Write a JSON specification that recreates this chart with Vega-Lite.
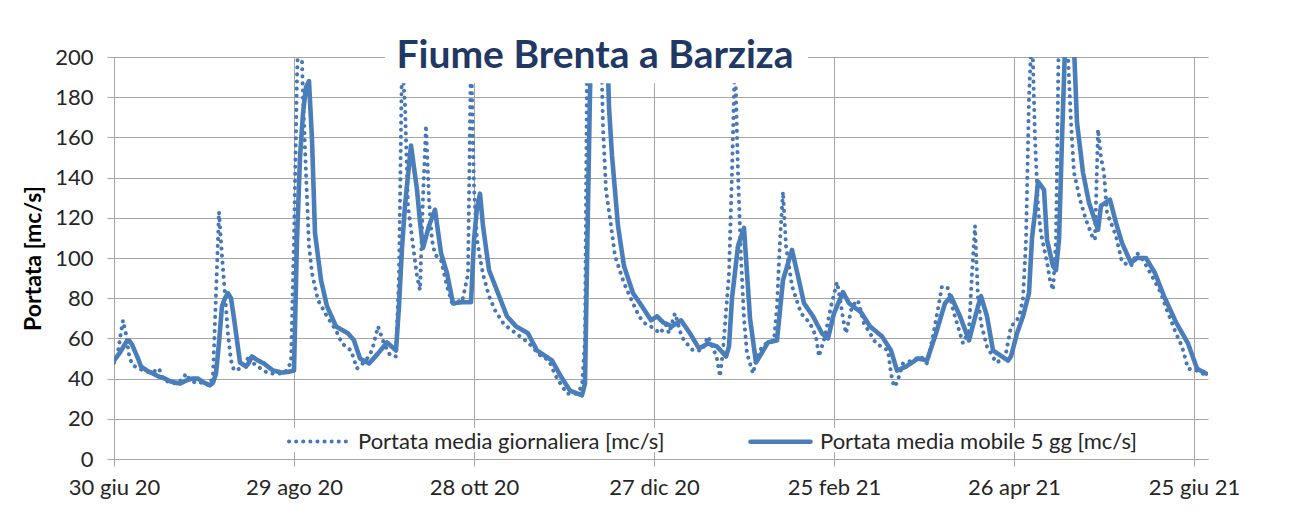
{
  "$schema": "https://vega.github.io/schema/vega-lite/v6.json",
  "width": 1094,
  "height": 402,
  "autosize": {"type": "none"},
  "padding": {"left": 114, "top": 57, "right": 82, "bottom": 57},
  "background": "white",
  "title": {"text": "Fiume Brenta a Barziza", "font": "Lato", "fontSize": 39, "fontWeight": "bold", "color": "#1F3864", "anchor": "middle", "dx": -66, "offset": -49, "baseline": "middle", "zindex": 1},
  "config": {"view": {"stroke": null}},
  "layer": [
    {
      "data": {"values": [
        {"data":"2020-06-30","serie":"g","portata":48},{"data":"2020-07-01","serie":"g","portata":50},{"data":"2020-07-02","serie":"g","portata":60},{"data":"2020-07-03","serie":"g","portata":69},{"data":"2020-07-04","serie":"g","portata":62},{"data":"2020-07-05","serie":"g","portata":52},{"data":"2020-07-06","serie":"g","portata":47},{"data":"2020-07-08","serie":"g","portata":45},{"data":"2020-07-10","serie":"g","portata":44},{"data":"2020-07-12","serie":"g","portata":43},{"data":"2020-07-14","serie":"g","portata":44},{"data":"2020-07-15","serie":"g","portata":45},{"data":"2020-07-16","serie":"g","portata":41},{"data":"2020-07-17","serie":"g","portata":39},{"data":"2020-07-19","serie":"g","portata":38},{"data":"2020-07-21","serie":"g","portata":37.5},{"data":"2020-07-23","serie":"g","portata":40},{"data":"2020-07-24","serie":"g","portata":42.5},{"data":"2020-07-25","serie":"g","portata":40},{"data":"2020-07-27","serie":"g","portata":38},{"data":"2020-07-29","serie":"g","portata":38},{"data":"2020-07-31","serie":"g","portata":37},
        {"data":"2020-08-01","serie":"g","portata":36.7},{"data":"2020-08-02","serie":"g","portata":42},{"data":"2020-08-03","serie":"g","portata":82},{"data":"2020-08-04","serie":"g","portata":123},{"data":"2020-08-05","serie":"g","portata":101},{"data":"2020-08-06","serie":"g","portata":82},{"data":"2020-08-07","serie":"g","portata":62},{"data":"2020-08-08","serie":"g","portata":49},{"data":"2020-08-09","serie":"g","portata":44},{"data":"2020-08-11","serie":"g","portata":45},{"data":"2020-08-13","serie":"g","portata":47.5},{"data":"2020-08-14","serie":"g","portata":51.7},{"data":"2020-08-16","serie":"g","portata":46.7},{"data":"2020-08-18","serie":"g","portata":45},{"data":"2020-08-20","serie":"g","portata":43},{"data":"2020-08-22","serie":"g","portata":42.5},{"data":"2020-08-24","serie":"g","portata":42.5},{"data":"2020-08-26","serie":"g","portata":43},{"data":"2020-08-28","serie":"g","portata":48},{"data":"2020-08-29","serie":"g","portata":110},{"data":"2020-08-30","serie":"g","portata":190},{"data":"2020-08-31","serie":"g","portata":235},
        {"data":"2020-09-01","serie":"g","portata":180},{"data":"2020-09-02","serie":"g","portata":142},{"data":"2020-09-03","serie":"g","portata":106},{"data":"2020-09-04","serie":"g","portata":92.5},{"data":"2020-09-06","serie":"g","portata":79},{"data":"2020-09-09","serie":"g","portata":71},{"data":"2020-09-12","serie":"g","portata":64},{"data":"2020-09-14","serie":"g","portata":57.5},{"data":"2020-09-17","serie":"g","portata":54},{"data":"2020-09-19","serie":"g","portata":45},{"data":"2020-09-22","serie":"g","portata":49},{"data":"2020-09-24","serie":"g","portata":54},{"data":"2020-09-26","serie":"g","portata":66},{"data":"2020-09-28","serie":"g","portata":57.5},{"data":"2020-09-30","serie":"g","portata":51.7},
        {"data":"2020-10-02","serie":"g","portata":51},{"data":"2020-10-03","serie":"g","portata":92},{"data":"2020-10-04","serie":"g","portata":200},{"data":"2020-10-05","serie":"g","portata":176},{"data":"2020-10-06","serie":"g","portata":126},{"data":"2020-10-08","serie":"g","portata":102.5},{"data":"2020-10-09","serie":"g","portata":91},{"data":"2020-10-10","serie":"g","portata":84},{"data":"2020-10-11","serie":"g","portata":130},{"data":"2020-10-12","serie":"g","portata":166},{"data":"2020-10-13","serie":"g","portata":129},{"data":"2020-10-14","serie":"g","portata":109},{"data":"2020-10-15","serie":"g","portata":101.7},{"data":"2020-10-17","serie":"g","portata":99},{"data":"2020-10-19","serie":"g","portata":86},{"data":"2020-10-21","serie":"g","portata":76},{"data":"2020-10-22","serie":"g","portata":79},{"data":"2020-10-24","serie":"g","portata":78},{"data":"2020-10-26","serie":"g","portata":92},{"data":"2020-10-27","serie":"g","portata":205},{"data":"2020-10-28","serie":"g","portata":135},{"data":"2020-10-29","serie":"g","portata":109},{"data":"2020-10-30","serie":"g","portata":100},{"data":"2020-10-31","serie":"g","portata":92},
        {"data":"2020-11-02","serie":"g","portata":81},{"data":"2020-11-04","serie":"g","portata":74},{"data":"2020-11-07","serie":"g","portata":67},{"data":"2020-11-11","serie":"g","portata":62.5},{"data":"2020-11-15","serie":"g","portata":58},{"data":"2020-11-19","serie":"g","portata":51.7},{"data":"2020-11-22","serie":"g","portata":49},{"data":"2020-11-24","serie":"g","portata":42},{"data":"2020-11-26","serie":"g","portata":37},{"data":"2020-11-28","serie":"g","portata":32.5},
        {"data":"2020-12-01","serie":"g","portata":32.5},{"data":"2020-12-03","serie":"g","portata":36},{"data":"2020-12-04","serie":"g","portata":60},{"data":"2020-12-05","serie":"g","portata":260},{"data":"2020-12-06","serie":"g","portata":380},{"data":"2020-12-07","serie":"g","portata":420},{"data":"2020-12-08","serie":"g","portata":350},{"data":"2020-12-09","serie":"g","portata":230},{"data":"2020-12-10","serie":"g","portata":165},{"data":"2020-12-11","serie":"g","portata":134},{"data":"2020-12-13","serie":"g","portata":112.5},{"data":"2020-12-14","serie":"g","portata":101},{"data":"2020-12-17","serie":"g","portata":87.5},{"data":"2020-12-20","serie":"g","portata":77.5},{"data":"2020-12-22","serie":"g","portata":71},{"data":"2020-12-24","serie":"g","portata":67.5},{"data":"2020-12-27","serie":"g","portata":65},{"data":"2020-12-29","serie":"g","portata":62.5},{"data":"2020-12-31","serie":"g","portata":66.7},
        {"data":"2021-01-01","serie":"g","portata":62.5},{"data":"2021-01-03","serie":"g","portata":72.5},{"data":"2021-01-05","serie":"g","portata":62},{"data":"2021-01-06","serie":"g","portata":59},{"data":"2021-01-09","serie":"g","portata":54},{"data":"2021-01-12","serie":"g","portata":54},{"data":"2021-01-14","serie":"g","portata":61},{"data":"2021-01-16","serie":"g","portata":54},{"data":"2021-01-17","serie":"g","portata":50},{"data":"2021-01-18","serie":"g","portata":41},{"data":"2021-01-19","serie":"g","portata":54},{"data":"2021-01-21","serie":"g","portata":92.5},{"data":"2021-01-22","serie":"g","portata":142.5},{"data":"2021-01-23","serie":"g","portata":200},{"data":"2021-01-24","serie":"g","portata":142},{"data":"2021-01-25","serie":"g","portata":100},{"data":"2021-01-26","serie":"g","portata":70},{"data":"2021-01-27","serie":"g","portata":52.5},{"data":"2021-01-29","serie":"g","portata":42.5},{"data":"2021-01-30","serie":"g","portata":49},
        {"data":"2021-02-01","serie":"g","portata":56},{"data":"2021-02-03","serie":"g","portata":58},{"data":"2021-02-05","serie":"g","portata":59},{"data":"2021-02-06","serie":"g","portata":76},{"data":"2021-02-07","serie":"g","portata":109},{"data":"2021-02-08","serie":"g","portata":133},{"data":"2021-02-09","serie":"g","portata":106},{"data":"2021-02-11","serie":"g","portata":86},{"data":"2021-02-14","serie":"g","portata":72.5},{"data":"2021-02-17","serie":"g","portata":67.5},{"data":"2021-02-19","serie":"g","portata":61},{"data":"2021-02-20","serie":"g","portata":51},{"data":"2021-02-22","serie":"g","portata":61},{"data":"2021-02-24","serie":"g","portata":76},{"data":"2021-02-26","serie":"g","portata":88},{"data":"2021-02-27","serie":"g","portata":80},{"data":"2021-02-28","serie":"g","portata":70},
        {"data":"2021-03-01","serie":"g","portata":62.5},{"data":"2021-03-03","serie":"g","portata":76},{"data":"2021-03-05","serie":"g","portata":79},{"data":"2021-03-07","serie":"g","portata":67.5},{"data":"2021-03-11","serie":"g","portata":57.5},{"data":"2021-03-15","serie":"g","portata":54},{"data":"2021-03-16","serie":"g","portata":42.5},{"data":"2021-03-17","serie":"g","portata":36},{"data":"2021-03-18","serie":"g","portata":38},{"data":"2021-03-20","serie":"g","portata":47.5},{"data":"2021-03-23","serie":"g","portata":49},{"data":"2021-03-26","serie":"g","portata":51},{"data":"2021-03-28","serie":"g","portata":47.5},{"data":"2021-03-30","serie":"g","portata":61},
        {"data":"2021-04-01","serie":"g","portata":77.5},{"data":"2021-04-02","serie":"g","portata":86},{"data":"2021-04-04","serie":"g","portata":85},{"data":"2021-04-06","serie":"g","portata":72.5},{"data":"2021-04-09","serie":"g","portata":57.5},{"data":"2021-04-11","serie":"g","portata":64},{"data":"2021-04-12","serie":"g","portata":92.5},{"data":"2021-04-13","serie":"g","portata":116},{"data":"2021-04-14","serie":"g","portata":80},{"data":"2021-04-15","serie":"g","portata":67.5},{"data":"2021-04-17","serie":"g","portata":56},{"data":"2021-04-20","serie":"g","portata":48},{"data":"2021-04-23","serie":"g","portata":50},{"data":"2021-04-25","serie":"g","portata":66},{"data":"2021-04-27","serie":"g","portata":69},{"data":"2021-04-28","serie":"g","portata":72.5},{"data":"2021-04-29","serie":"g","portata":80},{"data":"2021-04-30","serie":"g","portata":109},
        {"data":"2021-05-01","serie":"g","portata":180},{"data":"2021-05-02","serie":"g","portata":215},{"data":"2021-05-03","serie":"g","portata":160},{"data":"2021-05-04","serie":"g","portata":125},{"data":"2021-05-05","serie":"g","portata":112},{"data":"2021-05-06","serie":"g","portata":105},{"data":"2021-05-07","serie":"g","portata":98},{"data":"2021-05-08","serie":"g","portata":89},{"data":"2021-05-09","serie":"g","portata":84},{"data":"2021-05-10","serie":"g","portata":109},{"data":"2021-05-11","serie":"g","portata":220},{"data":"2021-05-12","serie":"g","portata":260},{"data":"2021-05-13","serie":"g","portata":240},{"data":"2021-05-14","serie":"g","portata":200},{"data":"2021-05-15","serie":"g","portata":167.5},{"data":"2021-05-16","serie":"g","portata":142.5},{"data":"2021-05-18","serie":"g","portata":129},{"data":"2021-05-20","serie":"g","portata":119},{"data":"2021-05-22","serie":"g","portata":111},{"data":"2021-05-23","serie":"g","portata":109},{"data":"2021-05-24","serie":"g","portata":164},{"data":"2021-05-25","serie":"g","portata":150},{"data":"2021-05-26","serie":"g","portata":142.5},{"data":"2021-05-27","serie":"g","portata":122.5},{"data":"2021-05-30","serie":"g","portata":111},
        {"data":"2021-06-01","serie":"g","portata":98},{"data":"2021-06-04","serie":"g","portata":96},{"data":"2021-06-06","serie":"g","portata":102.5},{"data":"2021-06-08","serie":"g","portata":99},{"data":"2021-06-11","serie":"g","portata":91},{"data":"2021-06-14","serie":"g","portata":82.5},{"data":"2021-06-16","serie":"g","portata":74},{"data":"2021-06-19","serie":"g","portata":62.5},{"data":"2021-06-21","serie":"g","portata":56},{"data":"2021-06-23","serie":"g","portata":45},{"data":"2021-06-26","serie":"g","portata":44},{"data":"2021-06-29","serie":"g","portata":41.7},
        {"data":"2020-06-30","serie":"m","portata":49},{"data":"2020-07-02","serie":"m","portata":53},{"data":"2020-07-04","serie":"m","portata":58},{"data":"2020-07-05","serie":"m","portata":59},{"data":"2020-07-06","serie":"m","portata":57},{"data":"2020-07-08","serie":"m","portata":50},{"data":"2020-07-09","serie":"m","portata":46},{"data":"2020-07-11","serie":"m","portata":44},{"data":"2020-07-13","serie":"m","portata":42.5},{"data":"2020-07-15","serie":"m","portata":41},{"data":"2020-07-17","serie":"m","portata":40},{"data":"2020-07-19","serie":"m","portata":38.5},{"data":"2020-07-22","serie":"m","portata":37.5},{"data":"2020-07-24","serie":"m","portata":39},{"data":"2020-07-26","serie":"m","portata":40},{"data":"2020-07-28","serie":"m","portata":40},{"data":"2020-07-30","serie":"m","portata":38},
        {"data":"2020-08-01","serie":"m","portata":36.7},{"data":"2020-08-02","serie":"m","portata":38},{"data":"2020-08-03","serie":"m","portata":42.5},{"data":"2020-08-04","serie":"m","portata":58},{"data":"2020-08-05","serie":"m","portata":76},{"data":"2020-08-06","serie":"m","portata":80},{"data":"2020-08-07","serie":"m","portata":82.5},{"data":"2020-08-08","serie":"m","portata":80},{"data":"2020-08-09","serie":"m","portata":70},{"data":"2020-08-10","serie":"m","portata":59},{"data":"2020-08-11","serie":"m","portata":48},{"data":"2020-08-13","serie":"m","portata":46},{"data":"2020-08-14","serie":"m","portata":48},{"data":"2020-08-15","serie":"m","portata":51},{"data":"2020-08-17","serie":"m","portata":49},{"data":"2020-08-19","serie":"m","portata":47.5},{"data":"2020-08-22","serie":"m","portata":44},{"data":"2020-08-25","serie":"m","portata":43},{"data":"2020-08-27","serie":"m","portata":43.3},{"data":"2020-08-29","serie":"m","portata":44},{"data":"2020-08-30","serie":"m","portata":109},{"data":"2020-08-31","serie":"m","portata":150},
        {"data":"2020-09-01","serie":"m","portata":172},{"data":"2020-09-02","serie":"m","portata":185},{"data":"2020-09-03","serie":"m","portata":188},{"data":"2020-09-04","serie":"m","portata":159},{"data":"2020-09-05","serie":"m","portata":112.5},{"data":"2020-09-07","serie":"m","portata":89},{"data":"2020-09-09","serie":"m","portata":76},{"data":"2020-09-12","serie":"m","portata":66},{"data":"2020-09-16","serie":"m","portata":62.5},{"data":"2020-09-18","serie":"m","portata":59},{"data":"2020-09-20","serie":"m","portata":50},{"data":"2020-09-23","serie":"m","portata":47.5},{"data":"2020-09-26","serie":"m","portata":52.5},{"data":"2020-09-29","serie":"m","portata":58},
        {"data":"2020-10-02","serie":"m","portata":54},{"data":"2020-10-03","serie":"m","portata":76},{"data":"2020-10-04","serie":"m","portata":105},{"data":"2020-10-05","serie":"m","portata":126},{"data":"2020-10-07","serie":"m","portata":156},{"data":"2020-10-09","serie":"m","portata":134},{"data":"2020-10-10","serie":"m","portata":118},{"data":"2020-10-11","serie":"m","portata":105},{"data":"2020-10-13","serie":"m","portata":116},{"data":"2020-10-15","serie":"m","portata":124},{"data":"2020-10-17","serie":"m","portata":102.5},{"data":"2020-10-19","serie":"m","portata":92.5},{"data":"2020-10-21","serie":"m","portata":77.5},{"data":"2020-10-24","serie":"m","portata":78},{"data":"2020-10-27","serie":"m","portata":78},{"data":"2020-10-28","serie":"m","portata":109},{"data":"2020-10-29","serie":"m","portata":125},{"data":"2020-10-30","serie":"m","portata":132},{"data":"2020-10-31","serie":"m","portata":116},
        {"data":"2020-11-02","serie":"m","portata":94},{"data":"2020-11-05","serie":"m","portata":82.5},{"data":"2020-11-08","serie":"m","portata":71},{"data":"2020-11-11","serie":"m","portata":66},{"data":"2020-11-15","serie":"m","portata":62.5},{"data":"2020-11-18","serie":"m","portata":54},{"data":"2020-11-23","serie":"m","portata":49},{"data":"2020-11-26","serie":"m","portata":41},{"data":"2020-11-29","serie":"m","portata":34},
        {"data":"2020-12-03","serie":"m","portata":31.7},{"data":"2020-12-04","serie":"m","portata":37.5},{"data":"2020-12-05","serie":"m","portata":126},{"data":"2020-12-06","serie":"m","portata":210},{"data":"2020-12-07","serie":"m","portata":260},{"data":"2020-12-08","serie":"m","portata":290},{"data":"2020-12-09","serie":"m","portata":300},{"data":"2020-12-10","serie":"m","portata":280},{"data":"2020-12-11","serie":"m","portata":230},{"data":"2020-12-12","serie":"m","portata":175},{"data":"2020-12-13","serie":"m","portata":151},{"data":"2020-12-15","serie":"m","portata":116},{"data":"2020-12-17","serie":"m","portata":96},{"data":"2020-12-20","serie":"m","portata":82.5},{"data":"2020-12-23","serie":"m","portata":76},{"data":"2020-12-26","serie":"m","portata":69},{"data":"2020-12-28","serie":"m","portata":71},{"data":"2020-12-30","serie":"m","portata":68},
        {"data":"2021-01-02","serie":"m","portata":66},{"data":"2021-01-05","serie":"m","portata":69},{"data":"2021-01-08","serie":"m","portata":62.5},{"data":"2021-01-11","serie":"m","portata":55},{"data":"2021-01-14","serie":"m","portata":57.5},{"data":"2021-01-17","serie":"m","portata":56},{"data":"2021-01-20","serie":"m","portata":51},{"data":"2021-01-21","serie":"m","portata":56},{"data":"2021-01-22","serie":"m","portata":80},{"data":"2021-01-24","serie":"m","portata":106},{"data":"2021-01-26","serie":"m","portata":115},{"data":"2021-01-27","serie":"m","portata":92.5},{"data":"2021-01-28","serie":"m","portata":70},{"data":"2021-01-29","serie":"m","portata":59},{"data":"2021-01-30","serie":"m","portata":48},
        {"data":"2021-02-01","serie":"m","portata":53},{"data":"2021-02-03","serie":"m","portata":58},{"data":"2021-02-06","serie":"m","portata":59},{"data":"2021-02-08","serie":"m","portata":89},{"data":"2021-02-11","serie":"m","portata":104},{"data":"2021-02-13","serie":"m","portata":91},{"data":"2021-02-15","serie":"m","portata":77.5},{"data":"2021-02-18","serie":"m","portata":71},{"data":"2021-02-21","serie":"m","portata":62.5},{"data":"2021-02-23","serie":"m","portata":60},{"data":"2021-02-25","serie":"m","portata":72.5},{"data":"2021-02-26","serie":"m","portata":76},{"data":"2021-02-28","serie":"m","portata":83},
        {"data":"2021-03-02","serie":"m","portata":77.5},{"data":"2021-03-06","serie":"m","portata":73},{"data":"2021-03-09","serie":"m","portata":66},{"data":"2021-03-13","serie":"m","portata":61},{"data":"2021-03-16","serie":"m","portata":54},{"data":"2021-03-18","serie":"m","portata":44},{"data":"2021-03-21","serie":"m","portata":46},{"data":"2021-03-25","serie":"m","portata":50},{"data":"2021-03-28","serie":"m","portata":49},{"data":"2021-03-31","serie":"m","portata":62.5},
        {"data":"2021-04-03","serie":"m","portata":77.5},{"data":"2021-04-05","serie":"m","portata":81},{"data":"2021-04-08","serie":"m","portata":71},{"data":"2021-04-11","serie":"m","portata":59},{"data":"2021-04-14","serie":"m","portata":76},{"data":"2021-04-15","serie":"m","portata":81},{"data":"2021-04-17","serie":"m","portata":71},{"data":"2021-04-19","serie":"m","portata":54},{"data":"2021-04-22","serie":"m","portata":51},{"data":"2021-04-24","serie":"m","portata":49},{"data":"2021-04-25","serie":"m","portata":51},{"data":"2021-04-27","serie":"m","portata":62.5},{"data":"2021-04-29","serie":"m","portata":71},
        {"data":"2021-05-01","serie":"m","portata":82.5},{"data":"2021-05-02","serie":"m","portata":110},{"data":"2021-05-03","serie":"m","portata":122.5},{"data":"2021-05-04","serie":"m","portata":138},{"data":"2021-05-06","serie":"m","portata":134},{"data":"2021-05-07","serie":"m","portata":109},{"data":"2021-05-09","serie":"m","portata":96},{"data":"2021-05-10","serie":"m","portata":94},{"data":"2021-05-11","serie":"m","portata":109},{"data":"2021-05-12","serie":"m","portata":159},{"data":"2021-05-13","serie":"m","portata":205},{"data":"2021-05-14","serie":"m","portata":220},{"data":"2021-05-15","serie":"m","portata":215},{"data":"2021-05-16","serie":"m","portata":205},{"data":"2021-05-17","serie":"m","portata":167.5},{"data":"2021-05-19","serie":"m","portata":142.5},{"data":"2021-05-21","serie":"m","portata":127.5},{"data":"2021-05-24","serie":"m","portata":114},{"data":"2021-05-25","serie":"m","portata":126},{"data":"2021-05-28","serie":"m","portata":129},{"data":"2021-05-30","serie":"m","portata":117.5},
        {"data":"2021-06-01","serie":"m","portata":107.5},{"data":"2021-06-04","serie":"m","portata":97.5},{"data":"2021-06-06","serie":"m","portata":100},{"data":"2021-06-09","serie":"m","portata":100},{"data":"2021-06-12","serie":"m","portata":92.5},{"data":"2021-06-15","serie":"m","portata":81},{"data":"2021-06-19","serie":"m","portata":68},{"data":"2021-06-23","serie":"m","portata":57.5},{"data":"2021-06-26","serie":"m","portata":45},{"data":"2021-06-29","serie":"m","portata":42.5}
      ]},
      "mark": {"type": "line", "strokeCap": "round", "strokeJoin": "round", "clip": true},
      "encoding": {
        "x": {"field": "data", "type": "temporal",
          "scale": {"type": "utc", "domain": [{"year": 2020, "month": 6, "date": 30, "utc": true}, {"year": 2021, "month": 6, "date": 29, "hours": 16, "utc": true}]},
          "axis": {"title": null,
            "values": [{"year": 2020, "month": 6, "date": 30, "utc": true}, {"year": 2020, "month": 8, "date": 29, "utc": true}, {"year": 2020, "month": 10, "date": 28, "utc": true}, {"year": 2020, "month": 12, "date": 27, "utc": true}, {"year": 2021, "month": 2, "date": 25, "utc": true}, {"year": 2021, "month": 4, "date": 26, "utc": true}, {"year": 2021, "month": 6, "date": 25, "utc": true}],
            "labelExpr": "utcFormat(datum.value, '%d') + ' ' + ['gen','feb','mar','apr','mag','giu','lug','ago','set','ott','nov','dic'][utcmonth(datum.value)] + ' ' + utcFormat(datum.value, '%y')",
            "grid": true, "gridColor": "#A6A6A6", "domainColor": "#A6A6A6", "tickColor": "#A6A6A6", "tickSize": 7,
            "labelFont": "Lato", "labelFontSize": 22, "labelColor": "#262626", "labelPadding": 11, "labelFlush": false, "labelOverlap": false}},
        "y": {"field": "portata", "type": "quantitative",
          "scale": {"domain": [0, 200], "nice": false},
          "axis": {"title": "Portata [mc/s]", "values": [0, 20, 40, 60, 80, 100, 120, 140, 160, 180, 200],
            "titleFont": "Lato", "titleFontSize": 23, "titleFontWeight": "bold", "titleColor": "#000000", "titlePadding": 9,
            "grid": true, "gridColor": "#A6A6A6", "domainColor": "#A6A6A6", "tickColor": "#A6A6A6", "tickSize": 7,
            "labelFont": "Lato", "labelFontSize": 22, "labelColor": "#262626", "labelPadding": 14}},
        "color": {"field": "serie", "type": "nominal",
          "scale": {"domain": ["g", "m"], "range": ["#4677B8", "#4A7EBB"]},
          "legend": {"title": null, "orient": "none", "legendX": 173, "legendY": 352, "direction": "horizontal", "symbolType": "stroke", "symbolSize": 3600, "symbolStrokeWidth": 4, "labelFont": "Lato", "labelFontSize": 22, "labelColor": "#262626", "labelLimit": 500, "labelOffset": 7, "columnPadding": 76, "padding": 0, "zindex": 1,
            "encode": {"symbols": {"update": {"strokeCap": {"value": "round"}}}},
            "labelExpr": "datum.label == 'g' ? 'Portata media giornaliera [mc/s]' : 'Portata media mobile 5 gg [mc/s]'"}},
        "strokeDash": {"field": "serie", "type": "nominal",
          "scale": {"domain": ["g", "m"], "range": [[0.1, 7], [1, 0]]},
          "legend": {"title": null, "orient": "none", "legendX": 173, "legendY": 352, "direction": "horizontal", "symbolType": "stroke", "symbolSize": 3600, "symbolStrokeWidth": 4, "labelFont": "Lato", "labelFontSize": 22, "labelColor": "#262626", "labelLimit": 500, "labelOffset": 7, "columnPadding": 76, "padding": 0, "zindex": 1,
            "encode": {"symbols": {"update": {"strokeCap": {"value": "round"}}}},
            "labelExpr": "datum.label == 'g' ? 'Portata media giornaliera [mc/s]' : 'Portata media mobile 5 gg [mc/s]'"}},
        "strokeWidth": {"field": "serie", "type": "nominal",
          "scale": {"type": "ordinal", "domain": ["g", "m"], "range": [4, 4.6]},
          "legend": null}
      }
    },
    {
      "data": {"values": [{}]},
      "mark": {"type": "rect", "fill": "white", "clip": true},
      "encoding": {
        "x": {"datum": {"year": 2020, "month": 9, "date": 28, "hours": 8, "utc": true}},
        "x2": {"datum": {"year": 2021, "month": 2, "date": 16, "hours": 8, "utc": true}},
        "y": {"datum": 187},
        "y2": {"datum": 215}
      }
    },
    {
      "data": {"values": [{}]},
      "mark": {"type": "rect", "fill": "white", "clip": true},
      "encoding": {
        "x": {"datum": {"year": 2020, "month": 8, "date": 25, "hours": 8, "utc": true}},
        "x2": {"datum": {"year": 2021, "month": 6, "date": 8, "hours": 16, "utc": true}},
        "y": {"datum": 3.5},
        "y2": {"datum": 15.4}
      }
    }
  ]
}
